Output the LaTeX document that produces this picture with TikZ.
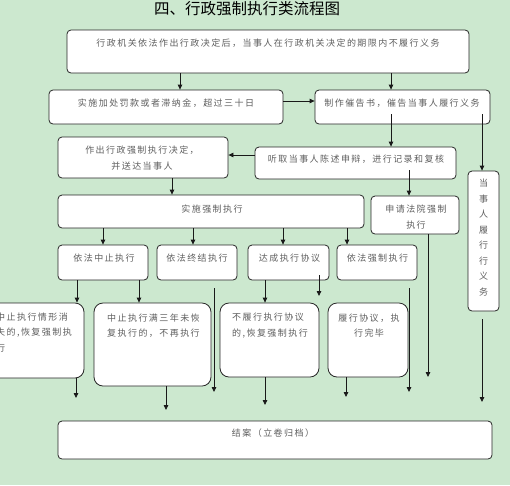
\documentclass[tikz,border=0pt]{standalone}
\usepackage{fontspec}
\setmainfont{Noto Sans CJK SC}
\newfontfamily\bt[LetterSpace=16]{Noto Sans CJK SC}
\usetikzlibrary{arrows.meta,fit}
\definecolor{bg}{RGB}{204,232,207}
\definecolor{tx}{RGB}{95,95,95}
\begin{document}
\begin{tikzpicture}[x=1pt,y=-1pt,
  box/.style={draw=black!85,line width=0.8pt,fill=white,rounded corners=4pt,inner sep=0pt},
  bigbox/.style={box,rounded corners=9pt},
  txt/.style={font=\bt\fontsize{9}{15.5}\selectfont,text=tx,inner sep=0pt,align=center},
  arr/.style={draw=black!90,line width=0.8pt,-{Triangle[length=5pt,width=4.5pt]}}]
\fill[bg] (0,0) rectangle (510,485);
\useasboundingbox (0,0) rectangle (510,485);
\clip (0,0) rectangle (510,485);
% title
\node[font=\fontsize{15.5}{18}\selectfont,inner sep=0pt,anchor=base] (title) at (247,14.9) {四、行政强制执行类流程图};
% boxes
\node[box,fit={(67,30) (469,73)}] (b1) {};
\node[box,fit={(49,90) (283,124)}] (b2) {};
\node[box,fit={(315,90) (490,124)}] (b3) {};
\node[box,fit={(58,137) (228,178)}] (b4) {};
\node[box,fit={(255,147) (456,179)}] (b5) {};
\node[box,fit={(58,195) (364,228)}] (b6) {};
\node[box,fit={(371,196) (459,234)}] (b7) {};
\node[box,fit={(468,171) (499,311)}] (b8) {};
\node[box,fit={(58,245) (148,280)}] (b9) {};
\node[box,fit={(157,245) (237,280)}] (b10) {};
\node[box,fit={(248,245) (329,280)}] (b11) {};
\node[box,fit={(337,245) (417,280)}] (b12) {};
\node[bigbox,fit={(-15,303) (84,378)}] (b13) {};
\node[bigbox,fit={(94,303) (211,386)}] (b14) {};
\node[bigbox,fit={(220,303) (319,377)}] (b15) {};
\node[bigbox,fit={(328,303) (408,377)}] (b16) {};
\node[box,fit={(58,421) (492,459)}] (b17) {};
% texts
\node[txt,anchor=base] (t1) at (268,46.4) {行政机关依法作出行政决定后，当事人在行政机关决定的期限内不履行义务};
\node[txt,anchor=base] (t2) at (166,106.4) {实施加处罚款或者滞纳金，超过三十日};
\node[txt,anchor=base] (t3) at (402,106.4) {制作催告书，催告当事人履行义务};
\node[txt] (t4) at (142,158) {作出行政强制执行决定，\\并送达当事人};
\node[txt,anchor=base] (t5) at (356,162.4) {听取当事人陈述申辩，进行记录和复核};
\node[txt,anchor=base] (t6) at (212,212.4) {实施强制执行};
\node[txt] (t7) at (416,217) {申请法院强制\\执行};
\node[txt] (t8) at (483.5,237.5) {当\\事\\人\\履\\行\\行\\义\\务};
\node[txt,anchor=base] (t9) at (104,261.4) {依法中止执行};
\node[txt,anchor=base] (t10) at (197,261.4) {依法终结执行};
\node[txt,anchor=base] (t11) at (289.5,261.4) {达成执行协议};
\node[txt,anchor=base] (t12) at (377.5,261.4) {依法强制执行};
\node[txt,align=left,anchor=west] (t13) at (-4,332.5) {中止执行情形消\\失的,恢复强制执\\行};
\node[txt,align=left,anchor=west] (t14) at (107,325.5) {中止执行满三年未恢\\复执行的，不再执行};
\node[txt,align=left,anchor=west] (t15) at (232,325.5) {不履行执行协议\\的,恢复强制执行};
\node[txt] (t16) at (369,325.5) {履行协议，执\\行完毕};
\node[txt,anchor=base] (t17) at (273,436.4) {结案（立卷归档）};
% free ends
\coordinate (s3a) at (391,114);
\coordinate (s3b) at (482,114);
\coordinate (s5) at (409,170);
\coordinate (s10) at (214,288);
\coordinate (e10) at (214,392);
\coordinate (s11) at (319,275);
\coordinate (e11) at (319,296);
\coordinate (s12) at (409,288);
\coordinate (e12) at (409,392);
\coordinate (e7) at (428,377);
\coordinate (s8) at (482,319);
\coordinate (e8) at (482,402);
\coordinate (e13) at (76,398);
\coordinate (e14) at (166,410);
\coordinate (e15) at (265,405);
\coordinate (e16) at (346,397);
% connectors
\draw[arr] (b1.south -| 180,0) -- (b2.north -| 180,0);
\draw[arr] (b1.south -| 391,0) -- (b3.north -| 391,0);
\draw[arr] (b2.east |- 0,101) -- (b3.west |- 0,101);
\draw[arr] (s3a) -- (b5.north -| s3a);
\draw[arr] (s3b) -- (b8.north -| s3b);
\draw[arr] (b5.west |- 0,155) -- (b4.east |- 0,155);
\draw[arr] (b4.south -| 172,0) -- (b6.north -| 172,0);
\draw[arr] (s5) -- (b7.north -| s5);
\draw[arr] (b6.south -| 103,0) -- (b9.north -| 103,0);
\draw[arr] (b6.south -| 193,0) -- (b10.north -| 193,0);
\draw[arr] (b6.south -| 283,0) -- (b11.north -| 283,0);
\draw[arr] (b6.south -| 347,0) -- (b12.north -| 347,0);
\draw[arr] (b9.south -| 77,0) -- (b13.north -| 77,0);
\draw[arr] (b9.south -| 139,0) -- (b14.north -| 139,0);
\draw[arr] (b11.south -| 265,0) -- (b15.north -| 265,0);
\draw[arr] (s11) -- (e11);
\draw[arr] (s10) -- (e10);
\draw[arr] (s12) -- (e12);
\draw[arr] (b7.south -| e7) -- (e7);
\draw[arr] (s8) -- (e8);
\draw[arr] (b13.south -| e13) -- (e13);
\draw[arr] (b14.south -| e14) -- (e14);
\draw[arr] (b15.south -| e15) -- (e15);
\draw[arr] (b16.south -| e16) -- (e16);
\end{tikzpicture}
\end{document}
